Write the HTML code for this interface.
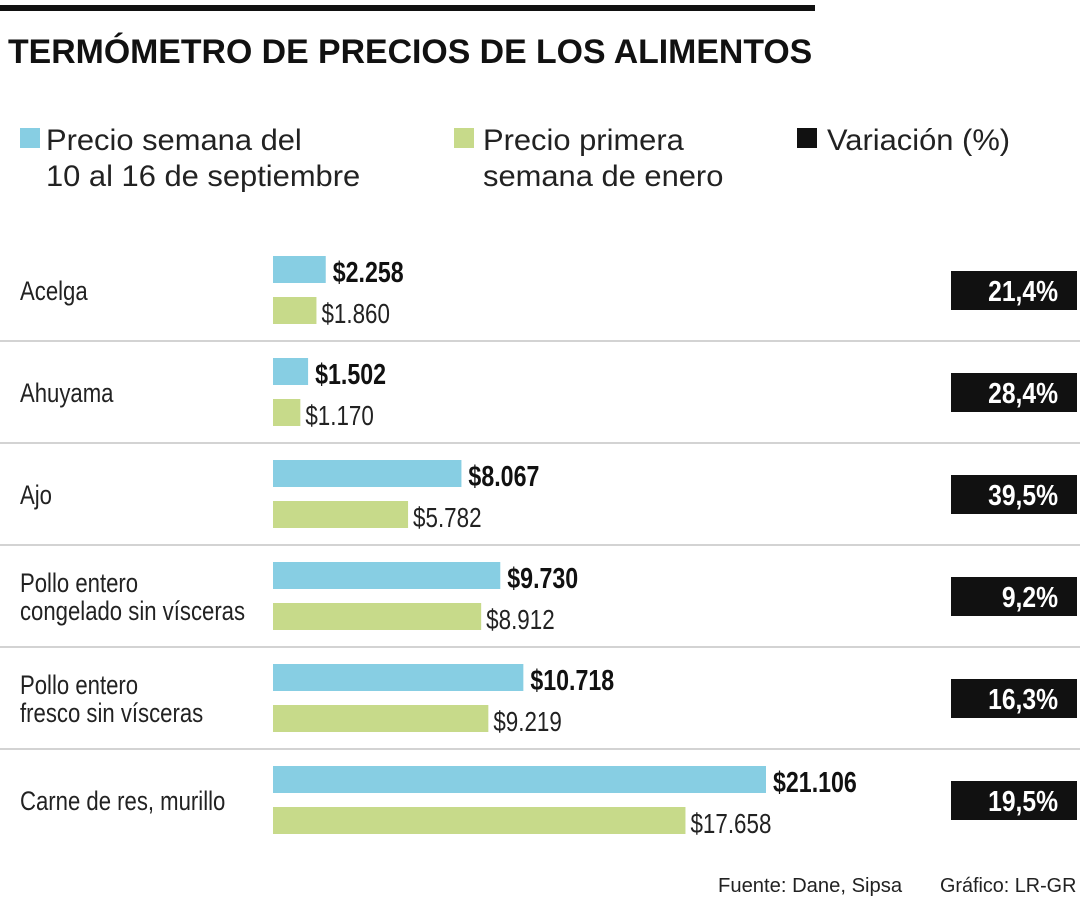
<!DOCTYPE html>
<html><head><meta charset="utf-8"><style>
body{margin:0;background:#fff;}
svg{display:block;font-family:"Liberation Sans",sans-serif;}
</style></head><body>
<svg width="1080" height="900">
<rect x="0" y="5" width="815" height="6" fill="#111"/>
<text x="0" y="63" font-size="34" font-weight="bold" fill="#111" transform="translate(8 0) scale(0.995 1)">TERMÓMETRO DE PRECIOS DE LOS ALIMENTOS</text>
<g>
<rect x="20" y="128" width="20" height="20" fill="#87cee3"/>
<text font-size="30" fill="#222" transform="translate(46 0) scale(1.03 1)"><tspan x="0" y="150">Precio semana del</tspan><tspan x="0" y="186">10 al 16 de septiembre</tspan></text>
<rect x="454" y="128" width="20" height="20" fill="#c7da8a"/>
<text font-size="30" fill="#222" transform="translate(483 0) scale(1.03 1)"><tspan x="0" y="150">Precio primera</tspan><tspan x="0" y="186">semana de enero</tspan></text>
<rect x="797" y="128" width="20" height="20" fill="#111"/>
<text font-size="30" fill="#222" transform="translate(827 0) scale(1.03 1)"><tspan x="0" y="150">Variación (%)</tspan></text>
</g>
<g id="rows"></g>
<text font-size="20" fill="#222" transform="translate(718 0) scale(1.01 1)"><tspan x="0" y="892">Fuente: Dane, Sipsa</tspan></text>
<text font-size="20" fill="#222" transform="translate(940 0) scale(0.99 1)"><tspan x="0" y="892">Gráfico: LR-GR</tspan></text>
</svg>
<script>
const categories=[["Acelga"],["Ahuyama"],["Ajo"],["Pollo entero","congelado sin vísceras"],["Pollo entero","fresco sin vísceras"],["Carne de res, murillo"]];
const currentPrices=[2258,1502,8067,9730,10718,21106];
const januaryPrices=[1860,1170,5782,8912,9219,17658];
const variations=[21.4,28.4,39.5,9.2,16.3,19.5];
const NS="http://www.w3.org/2000/svg";
const g=document.getElementById("rows");
const x0=273, k=493/21106;
function xs(v){return v*k;}
function fmt(v){return "$"+v.toLocaleString("de-DE");}
function mk(t,a){const e=document.createElementNS(NS,t);for(const n in a)e.setAttribute(n,a[n]);g.appendChild(e);return e;}
categories.forEach((c,i)=>{
  const top=239+i*102, cy=top+51;
  const lbl=mk("text",{"font-size":27,fill:"#222",transform:`translate(20 0) scale(0.82 1)`});
  
  
  const lines=c.length;
  c.forEach((s,j)=>{const ts=document.createElementNS(NS,"tspan");ts.setAttribute("x",0);ts.setAttribute("y",cy+10+(j-(lines-1)/2)*28);ts.textContent=s;lbl.appendChild(ts);});
  const wb=xs(currentPrices[i]), wg=xs(januaryPrices[i]);
  const b=mk("rect",{x:x0,y:top+17,width:wb,height:27,fill:"#87cee3"});
  
  
  const bt=mk("text",{"font-size":29,"font-weight":"bold",fill:"#111",transform:`translate(${x0+wb+7} 0) scale(0.8 1)`,y:top+43,x:0});
  bt.textContent=fmt(currentPrices[i]);
  
  
  const gr=mk("rect",{x:x0,y:top+58,width:wg,height:27,fill:"#c7da8a"});
  
  
  const gt=mk("text",{"font-size":28,fill:"#222",transform:`translate(${x0+wg+5} 0) scale(0.8 1)`,y:top+84,x:0});
  gt.textContent=fmt(januaryPrices[i]);
  
  
  const box=mk("rect",{x:951,y:cy-19,width:126,height:39,fill:"#111"});
  
  
  const vt=mk("text",{"font-size":29,"font-weight":"bold",fill:"#fff","text-anchor":"end",transform:`translate(1058 0) scale(0.85 1)`,x:0,y:cy+11});
  vt.textContent=variations[i].toFixed(1).replace(".",",")+"%";
  
  
  if(i<categories.length-1){
    const ln=mk("rect",{x:0,y:top+101,width:1080,height:2,fill:"#d3d3d3"});
    
    
  }
});
</script>
</body></html>
